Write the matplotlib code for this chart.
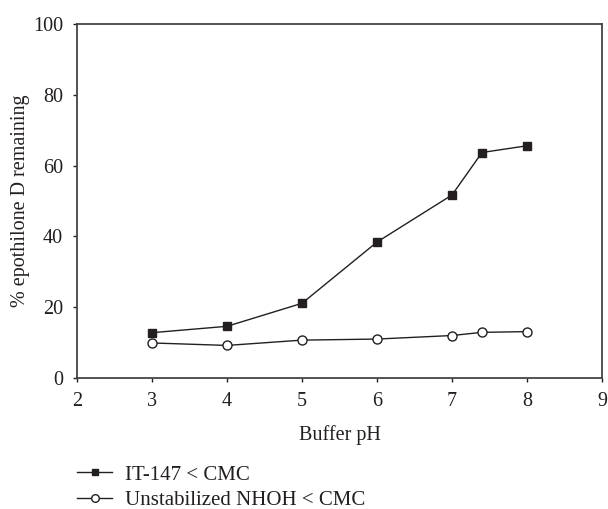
import matplotlib
matplotlib.use("Agg")
import matplotlib.pyplot as plt
from matplotlib.lines import Line2D

plt.rcParams['font.family'] = ['Liberation Serif', 'DejaVu Serif']

ph = [3, 4, 5, 6, 7, 7.4, 8]
it147 = [12.8, 14.6, 21.1, 38.4, 51.7, 63.7, 65.6]
unstab = [9.9, 9.2, 10.7, 11.0, 12.0, 12.9, 13.1]
labels = ["IT-147 < CMC", "Unstabilized NHOH < CMC"]
xticks = [2, 3, 4, 5, 6, 7, 8, 9]
yticks = [0, 20, 40, 60, 80, 100]

fig = plt.figure(figsize=(6.08, 5.09), dpi=100)
ax = fig.add_axes([77/608, 1-378/509, (602-77)/608, (378-24)/509])

c = '#231f20'
ax.plot(ph, it147, color=c, lw=1.0, marker='s', ms=6, mfc=c, mec=c)
ax.plot(ph, unstab, color=c, lw=1.0, marker='o', ms=6.5, mfc='white', mec=c, mew=1.0)

ax.set_xlim(2, 9)
ax.set_ylim(0, 100)
ax.set_xticks(xticks)
ax.set_yticks(yticks)
ax.tick_params(direction='out', length=3, width=1, colors=c, labelsize=14.5,
               labelcolor=c, pad=7)
for s in ax.spines.values():
    s.set_color('#444444')
    s.set_linewidth(1.3)
ax.set_xlabel("Buffer pH", fontsize=14.5, color=c, labelpad=10)
ax.set_ylabel("% epothilone D remaining", fontsize=14.5, color=c, labelpad=2)

handles = [
    Line2D([], [], color=c, lw=1.0, marker='s', ms=5, mfc=c, mec=c),
    Line2D([], [], color=c, lw=1.0, marker='o', ms=5.5, mfc='white', mec=c),
]
fig.legend(handles, labels, loc='upper left', bbox_to_anchor=(77/608, 1-465/509),
           frameon=False, fontsize=15, handlelength=1.7, handletextpad=0.6,
           labelspacing=0.3, borderaxespad=0, borderpad=0, labelcolor=c)

fig.savefig("out.png", dpi=100)
